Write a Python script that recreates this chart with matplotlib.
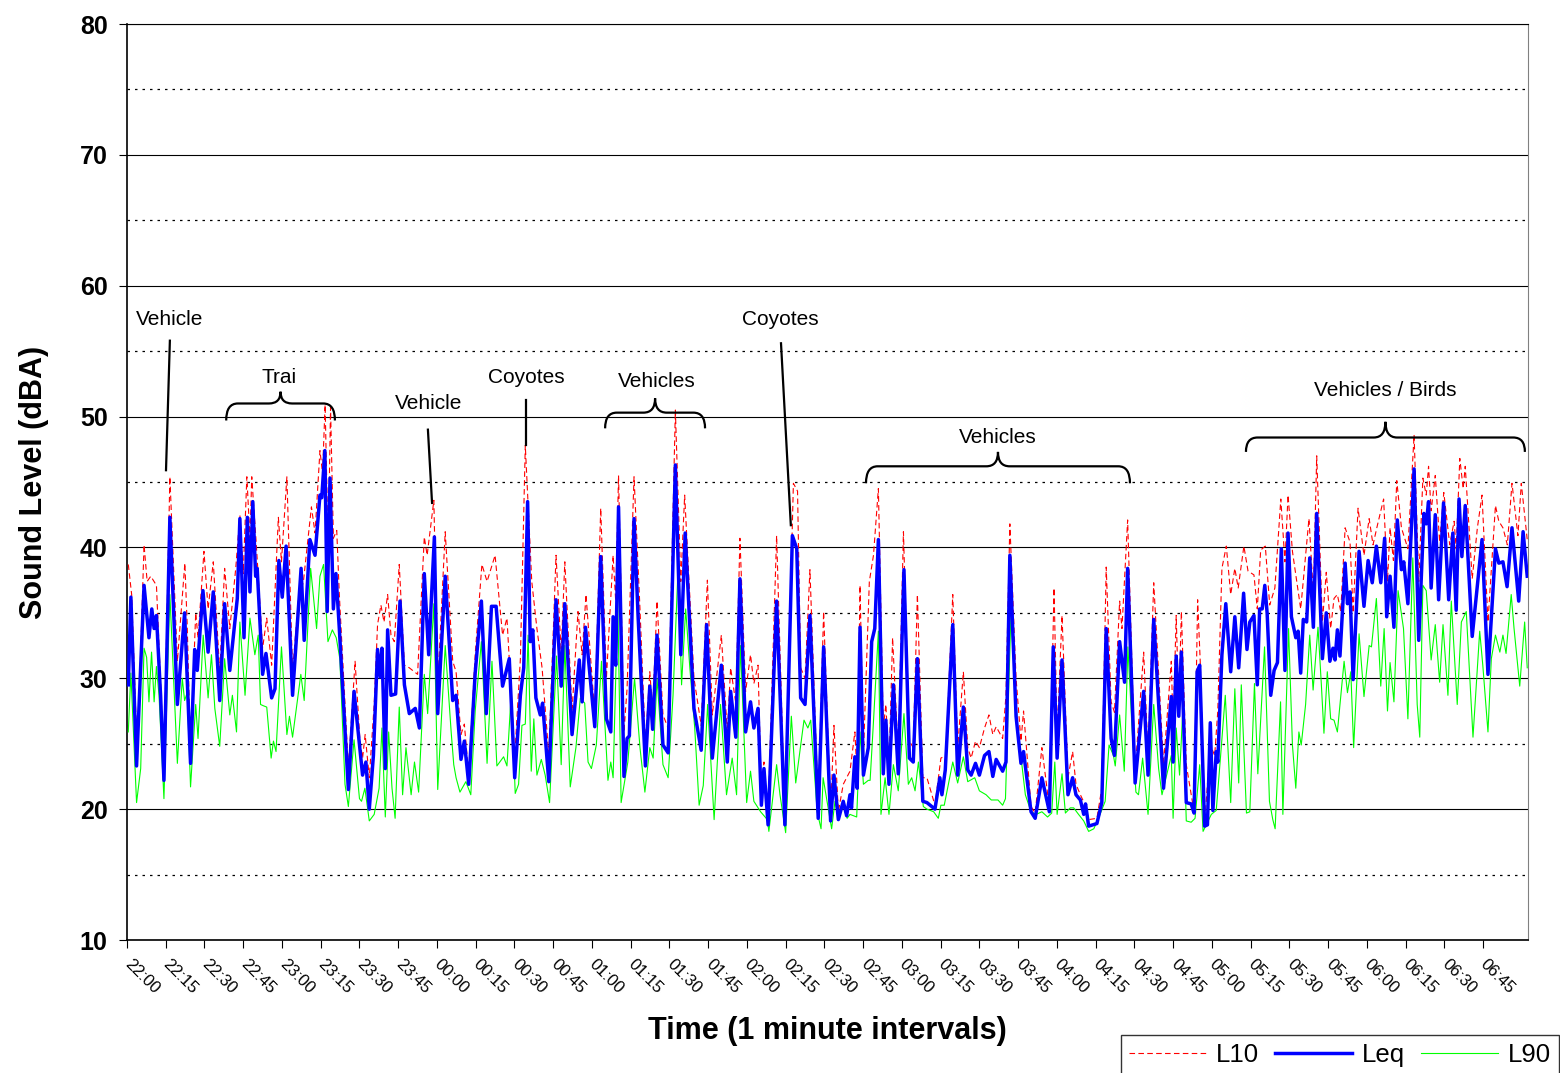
import numpy as np
import matplotlib
matplotlib.use("Agg")
import matplotlib.pyplot as plt
from matplotlib.path import Path
from matplotlib.patches import PathPatch
from matplotlib.lines import Line2D

plt.rcParams['font.family'] = ['Liberation Sans', 'DejaVu Sans']

# minutes after 22:00, level in dBA (turning points)
leq = [
    (0, 29.5), (1, 36.2), (3.2, 23.3), (6.1, 37.1), (8.0, 33.1), (9.1, 35.3), (10.0, 33.8), (10.9, 34.8),
    (12.5, 28.7), (13.8, 22.2), (16.1, 42.3), (19.0, 28.0), (21.8, 35.0), (24.1, 23.5), (25.7, 32.2),
    (26.7, 30.6), (28.9, 36.7), (30.9, 32.0), (32.9, 36.6), (35.4, 28.3), (37.3, 35.7), (39.3, 30.6),
    (42.2, 36.1), (43.2, 42.2), (44.8, 33.1), (46.1, 42.3), (47.1, 36.6), (48.2, 43.5), (49.3, 37.8),
    (49.9, 38.4), (52.0, 30.3), (53.3, 31.9), (55.5, 28.5), (56.8, 29.2), (58.3, 39.0), (59.6, 36.2),
    (61.1, 40.1), (63.6, 28.7), (66.9, 38.4), (68.1, 32.9), (70.3, 40.6), (72.3, 39.4), (74.2, 44.0),
    (74.9, 43.8), (76.1, 47.4), (77.0, 35.1), (78.1, 45.3), (79.4, 35.3), (80.4, 38.0), (81.7, 33.8),
    (85.2, 21.5), (87.4, 29.0), (90.7, 22.6), (92.0, 23.6), (93.3, 20.0), (94.9, 24.1), (96.5, 32.2),
    (97.5, 30.1), (98.2, 32.3), (99.5, 23.1), (100.4, 33.7), (101.7, 28.7), (103.5, 28.8), (105.2, 35.9),
    (106.9, 29.5), (108.8, 27.3), (111.1, 27.7), (112.7, 26.2), (114.6, 38.0), (116.3, 31.8),
    (118.5, 40.8), (119.8, 27.3), (122.7, 37.8), (125.6, 28.3), (126.9, 28.7), (128.8, 23.8),
    (130.1, 25.2), (131.8, 21.9), (134.3, 30.4), (136.7, 35.9), (138.6, 27.3), (140.6, 35.5),
    (142.4, 35.5), (144.9, 29.4), (147.5, 31.5), (149.6, 22.4), (151.8, 28.7), (153.1, 30.8),
    (154.6, 43.5), (155.6, 32.8), (156.6, 33.7), (157.8, 28.5), (159.5, 27.2), (160.4, 28.1),
    (162.8, 22.1), (165.6, 36.0), (167.6, 29.4), (169.0, 35.7), (171.8, 25.7), (174.6, 31.4),
    (175.7, 28.2), (177.0, 33.9), (180.6, 26.3), (182.9, 39.3), (185.1, 26.9), (186.8, 25.9),
    (187.7, 34.7), (188.7, 31.0), (189.8, 43.1), (191.9, 22.5), (193.1, 25.4), (194.0, 25.6),
    (195.8, 42.2), (197.4, 34.6), (200.2, 23.3), (201.9, 29.4), (203.0, 26.1), (204.7, 33.3),
    (207.0, 24.9), (209.0, 24.3), (211.8, 46.3), (213.9, 31.8), (215.6, 41.1), (219.0, 27.7),
    (221.8, 24.5), (223.9, 34.1), (226.1, 23.9), (229.6, 31.0), (231.9, 23.6), (233.2, 29.0),
    (235.2, 25.5), (236.8, 37.6), (239.0, 25.9), (240.9, 28.2), (242.2, 26.2), (243.8, 27.7),
    (245.1, 20.3), (246.1, 23.1), (247.7, 18.8), (251.0, 35.9), (254.2, 18.8), (257.1, 40.9),
    (258.8, 39.9), (260.3, 28.5), (262.0, 28.0), (263.9, 34.8), (267.1, 19.3), (269.2, 32.4),
    (271.9, 19.1), (273.2, 22.6), (274.9, 19.2), (276.8, 20.6), (278.1, 19.5), (279.4, 21.1),
    (280.0, 20.1), (281.3, 24.0), (282.2, 21.6), (283.3, 33.9), (284.6, 22.6), (286.5, 24.7),
    (287.8, 32.8), (289.0, 33.8), (290.4, 40.6), (292.3, 22.7), (293.3, 26.8), (294.5, 21.9),
    (296.2, 29.5), (298.1, 22.7), (300.3, 38.3), (302.4, 23.9), (303.9, 23.6), (305.5, 31.5),
    (307.6, 20.6), (309.2, 20.5), (312.3, 20.0), (314.2, 22.4), (315.0, 21.1), (316.3, 23.0),
    (319.2, 34.1), (321.1, 22.6), (323.3, 27.8), (325.0, 23.0), (326.3, 22.6), (328.0, 23.5),
    (329.5, 22.6), (331.5, 24.1), (333.2, 24.4), (334.7, 22.5), (336.0, 23.8), (338.5, 22.9),
    (339.8, 23.6), (341.3, 39.4), (343.7, 27.1), (345.6, 23.5), (346.6, 24.4), (349.5, 19.8),
    (351.1, 19.3), (353.7, 22.4), (356.6, 19.8), (358.1, 32.4), (359.6, 23.9), (361.5, 31.4),
    (363.8, 21.1), (365.6, 22.4), (366.9, 21.1), (368.6, 20.7), (369.9, 19.6), (370.6, 20.4),
    (371.8, 18.7), (375.0, 18.9), (376.9, 20.5), (378.6, 33.8), (380.5, 25.4), (381.8, 24.1),
    (383.8, 32.8), (385.7, 29.7), (386.9, 38.4), (389.8, 22.0), (393.1, 29.0), (394.8, 22.6),
    (397.0, 34.5), (400.8, 21.6), (403.8, 28.6), (404.5, 23.6), (405.7, 31.7), (406.7, 27.1),
    (407.7, 32.0), (409.6, 20.5), (411.5, 20.4), (412.6, 19.7), (413.8, 30.5), (414.8, 31.0),
    (416.7, 18.7), (417.8, 18.8), (418.9, 26.6), (419.9, 19.9), (421.2, 24.4), (421.8, 23.6),
    (423.4, 31.8), (424.9, 35.7), (426.8, 30.5), (428.4, 34.7), (429.9, 30.8), (431.8, 36.5),
    (433.1, 32.2), (434.2, 34.3), (435.8, 34.8), (437.1, 29.5), (438.0, 35.3), (439.0, 35.3),
    (440.0, 37.1), (440.9, 35.0), (442.3, 28.7), (443.6, 30.6), (444.9, 31.2), (446.4, 39.9),
    (447.8, 30.6), (449.0, 41.1), (450.3, 34.7), (452.0, 33.1), (452.9, 33.6), (453.9, 30.4),
    (454.9, 34.5), (456.2, 34.3), (457.4, 39.2), (458.8, 33.9), (460.1, 42.6), (462.3, 31.5),
    (463.8, 35.0), (465.2, 31.3), (466.4, 32.3), (467.2, 31.4), (468.1, 33.7), (469.1, 31.7),
    (471.1, 38.8), (472.0, 35.7), (473.0, 36.6), (474.2, 29.9), (476.5, 39.7), (478.4, 35.5),
    (480.0, 39.0), (481.6, 37.3), (483.2, 40.1), (484.9, 37.3), (486.4, 40.7), (487.2, 34.7),
    (488.5, 37.8), (490.0, 33.9), (491.3, 42.1), (492.9, 38.3), (493.8, 38.9), (495.4, 35.7),
    (497.8, 46.0), (499.6, 32.9), (501.6, 42.6), (502.5, 41.8), (503.4, 43.5), (504.4, 36.9),
    (506.0, 42.5), (507.3, 36.0), (509.2, 43.4), (511.2, 36.0), (512.8, 41.1), (514.1, 35.2),
    (515.2, 43.7), (516.3, 39.3), (517.6, 43.2), (520.3, 33.2), (524.1, 40.6), (526.4, 30.3),
    (529.3, 39.9), (530.6, 38.8), (532.2, 38.9), (533.8, 37.0), (535.7, 41.5), (538.3, 35.9),
    (540.0, 41.2), (541.6, 37.8),
]

l10 = [
    (0, 38.7), (1.3, 36.4), (3.5, 23.9), (6.1, 40.2), (7.3, 37.4), (8.7, 37.8), (10.9, 37.1),
    (13.8, 23.6), (16.1, 45.4), (19.0, 31.3), (21.9, 38.8), (22.8, 34.1), (24.1, 24.3), (26.1, 35.0),
    (27.0, 33.1), (29.3, 39.7), (30.9, 35.3), (32.9, 38.9), (35.4, 30.5), (37.3, 38.4), (39.3, 33.8),
    (41.6, 38.4), (43.2, 42.5), (44.5, 38.0), (45.9, 45.4), (47.1, 40.7), (47.8, 45.4), (49.5, 40.4),
    (52.0, 32.3), (53.6, 34.6), (55.5, 31.0), (58.1, 42.3), (59.3, 38.9), (61.4, 45.4), (63.6, 30.5),
    (65.8, 35.9), (67.8, 37.4), (70.9, 43.1), (72.3, 41.1), (74.2, 47.4), (75.2, 45.7), (76.2, 50.9),
    (77.4, 39.7), (78.3, 50.7), (79.4, 40.7), (80.7, 41.3), (81.7, 36.4), (85.2, 23.1), (87.8, 31.3),
    (89.7, 25.2), (90.7, 23.9), (91.7, 25.7), (93.3, 22.4), (95.2, 28.0), (96.5, 34.1), (97.8, 35.6),
    (99.0, 34.3), (100.4, 36.4), (101.7, 33.3), (103.0, 32.8), (104.9, 38.7), (106.9, 31.0),
    (108.8, 30.8), (112.0, 30.3), (114.6, 40.8), (115.7, 39.4), (118.3, 43.6), (119.8, 29.5),
    (122.7, 41.2), (125.6, 31.3), (126.9, 30.5), (128.8, 25.7), (130.1, 26.5), (131.8, 22.6),
    (134.3, 31.8), (136.9, 38.7), (138.9, 37.4), (142.0, 39.4), (144.9, 33.3), (146.6, 34.6),
    (149.6, 24.0), (151.8, 31.5), (153.7, 47.8), (156.2, 37.4), (158.2, 33.8), (160.2, 30.8),
    (162.8, 24.1), (165.6, 39.4), (167.6, 32.0), (169.0, 38.9), (171.8, 27.5), (174.1, 35.1),
    (175.7, 31.8), (177.2, 36.4), (180.6, 27.2), (182.9, 43.0), (185.1, 30.0), (187.7, 39.4),
    (188.7, 35.9), (189.8, 45.5), (191.9, 25.9), (193.1, 29.2), (195.8, 45.4), (198.1, 35.3),
    (200.2, 24.9), (201.9, 30.5), (203.0, 27.5), (204.7, 35.9), (207.0, 27.2), (209.0, 26.2),
    (211.8, 50.5), (213.9, 37.4), (215.4, 44.0), (219.0, 30.0), (221.8, 26.4), (224.2, 37.5),
    (226.1, 27.2), (229.6, 33.3), (231.9, 25.9), (233.2, 30.8), (235.2, 28.1), (236.8, 40.7),
    (239.0, 29.0), (240.9, 31.8), (242.2, 29.6), (243.8, 31.0), (245.1, 21.1), (246.1, 23.6),
    (247.7, 19.6), (251.0, 40.9), (254.2, 19.3), (257.5, 44.9), (259.1, 44.3), (260.3, 30.8),
    (262.0, 30.0), (263.9, 38.3), (267.1, 20.3), (269.2, 35.1), (271.9, 19.8), (273.2, 26.4),
    (274.9, 19.8), (276.8, 21.9), (279.4, 22.9), (281.3, 25.9), (282.2, 22.4), (283.3, 37.1),
    (284.6, 24.1), (286.9, 37.4), (288.5, 39.4), (290.4, 44.5), (292.3, 26.2), (293.3, 28.0),
    (294.5, 23.1), (295.9, 33.1), (298.1, 24.1), (300.1, 41.2), (302.4, 25.2), (303.9, 24.7),
    (305.5, 36.4), (307.6, 22.4), (309.2, 22.4), (312.3, 20.3), (314.6, 23.9), (316.5, 24.1),
    (319.2, 36.4), (321.1, 24.7), (323.3, 30.5), (325.0, 24.7), (326.3, 23.9), (328.0, 25.2),
    (329.5, 24.7), (331.5, 26.2), (333.2, 27.2), (334.7, 25.7), (336.0, 26.3), (338.5, 25.4),
    (339.8, 28.7), (341.3, 41.8), (343.7, 30.0), (345.6, 25.2), (346.6, 27.5), (349.5, 20.2),
    (351.1, 19.7), (353.7, 24.7), (356.6, 20.1), (358.4, 36.9), (359.6, 25.7), (361.5, 34.8),
    (363.8, 22.4), (365.6, 24.4), (366.9, 21.9), (368.6, 21.1), (370.5, 20.3), (371.8, 19.2),
    (375.0, 19.3), (376.9, 21.6), (378.6, 38.5), (380.5, 28.2), (381.8, 27.4), (383.8, 35.9),
    (384.7, 33.8), (386.9, 42.1), (389.8, 22.9), (393.1, 32.0), (394.8, 24.1), (397.0, 37.3),
    (400.8, 23.4), (403.8, 31.3), (404.5, 26.2), (405.7, 34.8), (406.7, 27.7), (407.7, 35.1),
    (409.6, 23.4), (411.5, 21.1), (412.6, 19.8), (414.0, 36.0), (415.0, 31.3), (416.7, 18.9),
    (418.9, 24.9), (420.6, 24.1), (421.8, 27.5), (423.4, 38.4), (425.1, 40.1), (426.8, 36.4),
    (428.4, 38.4), (429.7, 36.9), (431.9, 40.1), (433.5, 38.2), (435.8, 37.9), (437.1, 35.3),
    (438.4, 39.8), (440.2, 40.1), (441.9, 35.6), (443.9, 36.9), (446.2, 43.7), (447.8, 38.9),
    (449.0, 44.0), (450.7, 39.7), (452.6, 37.1), (453.9, 35.3), (455.2, 38.1), (457.1, 42.2),
    (458.8, 36.4), (460.1, 47.0), (462.3, 34.3), (463.8, 38.1), (465.5, 33.8), (466.8, 36.1),
    (468.1, 36.4), (469.4, 35.1), (471.1, 41.5), (473.0, 40.4), (474.2, 35.0), (476.1, 43.0),
    (478.4, 39.4), (480.4, 42.2), (481.9, 40.2), (483.6, 41.7), (486.0, 43.7), (487.5, 37.4),
    (488.5, 41.5), (489.8, 39.0), (491.1, 45.1), (492.9, 41.5), (495.4, 39.9), (497.8, 48.6),
    (499.6, 37.4), (501.2, 45.3), (502.5, 44.0), (503.4, 46.2), (504.4, 42.8), (506.0, 45.5),
    (507.7, 40.4), (509.3, 44.2), (511.6, 40.2), (513.3, 42.0), (514.1, 39.9), (515.5, 46.8),
    (516.8, 44.5), (517.6, 46.2), (520.3, 37.6), (522.3, 41.5), (524.1, 44.0), (526.4, 34.3),
    (529.3, 43.2), (530.6, 42.0), (532.2, 41.5), (533.9, 40.2), (535.7, 44.9), (538.0, 40.9),
    (539.3, 44.9), (541.6, 40.6),
]

l90 = [
    (0, 25.9), (1, 30.4), (3.2, 20.5), (4.8, 23.1), (6.1, 32.3), (7.1, 31.6), (8.0, 28.2), (9.0, 32.0),
    (10.0, 28.2), (10.9, 30.9), (11.9, 28.7), (13.8, 20.8), (16.1, 36.4), (19.0, 23.5), (20.9, 30.0),
    (21.8, 28.3), (22.8, 28.9), (24.1, 21.7), (26.1, 28.0), (27.0, 25.4), (29.0, 33.3), (30.9, 28.5),
    (32.2, 31.8), (33.5, 27.7), (35.4, 24.8), (37.3, 31.5), (39.3, 27.2), (40.3, 28.7), (41.9, 25.9),
    (43.2, 34.3), (45.2, 28.7), (47.1, 34.6), (49.0, 31.8), (50.3, 33.3), (51.2, 28.0), (52.3, 27.9),
    (53.6, 27.8), (55.3, 23.9), (56.2, 25.2), (57.2, 24.4), (59.3, 32.4), (61.4, 25.7), (62.4, 27.1),
    (63.6, 25.5), (66.8, 30.3), (68.1, 28.3), (70.6, 38.4), (72.9, 33.8), (74.2, 37.8), (75.6, 38.7),
    (77.3, 32.8), (79.0, 33.7), (80.5, 33.1), (81.9, 31.5), (83.9, 21.9), (85.2, 20.2), (87.4, 25.3),
    (89.5, 20.8), (90.3, 20.6), (91.6, 21.6), (93.3, 19.1), (95.2, 19.6), (97.1, 21.6), (98.2, 26.2),
    (99.5, 19.4), (100.8, 25.9), (102.1, 21.6), (103.3, 19.3), (104.9, 27.8), (106.2, 21.1),
    (107.5, 24.7), (109.5, 21.1), (110.8, 23.6), (112.4, 21.3), (114.6, 30.3), (115.9, 27.3),
    (118.3, 35.7), (119.8, 21.5), (122.7, 32.5), (125.0, 25.9), (126.0, 23.4), (126.9, 22.4),
    (128.4, 21.3), (130.7, 22.1), (132.6, 21.1), (134.3, 27.5), (136.7, 32.8), (138.9, 23.5),
    (140.8, 31.3), (142.7, 23.3), (145.3, 24.0), (146.6, 23.3), (148.3, 29.0), (149.8, 21.2),
    (151.1, 21.9), (152.4, 26.4), (153.7, 26.5), (154.8, 33.3), (156.0, 22.9), (157.0, 26.9),
    (158.2, 22.6), (159.9, 23.8), (161.4, 22.6), (163.1, 20.5), (165.8, 31.7), (167.6, 23.4),
    (169.0, 32.5), (171.1, 21.7), (173.3, 24.7), (175.0, 28.5), (176.7, 28.1), (178.0, 23.6),
    (179.3, 23.1), (181.2, 24.9), (183.2, 31.3), (185.7, 22.2), (186.8, 23.6), (187.7, 22.4),
    (189.5, 36.0), (190.8, 20.5), (193.4, 23.6), (196.0, 30.0), (198.1, 24.7), (200.0, 21.3),
    (201.9, 24.7), (203.2, 23.9), (204.7, 30.0), (207.0, 23.4), (209.0, 22.4), (210.9, 28.7),
    (212.9, 38.7), (214.2, 29.5), (215.8, 35.3), (217.4, 30.8), (219.3, 26.2), (221.0, 20.3),
    (222.6, 21.8), (224.3, 28.0), (226.8, 19.2), (229.3, 28.0), (231.6, 21.1), (233.8, 23.9),
    (235.5, 21.1), (237.0, 32.5), (239.4, 20.5), (240.9, 22.9), (242.2, 20.6), (244.8, 19.8),
    (247.4, 19.2), (248.0, 18.3), (251.0, 23.4), (252.3, 21.1), (254.5, 18.2), (256.7, 27.1),
    (258.4, 22.0), (261.6, 26.8), (263.1, 26.2), (264.2, 26.8), (266.7, 19.8), (268.2, 18.5),
    (269.0, 22.4), (272.3, 18.5), (273.6, 20.6), (274.9, 19.4), (276.8, 20.3), (278.3, 19.3),
    (279.4, 19.6), (282.0, 19.4), (283.3, 25.9), (284.6, 21.9), (286.5, 22.2), (287.2, 22.2),
    (288.5, 26.7), (290.4, 33.6), (291.4, 19.6), (293.0, 22.4), (294.5, 19.6), (296.2, 23.4),
    (298.1, 21.4), (300.3, 27.3), (302.0, 21.9), (303.3, 22.4), (304.6, 21.4), (305.9, 23.6),
    (307.8, 20.2), (309.2, 20.0), (311.8, 19.8), (313.6, 19.3), (314.6, 20.3), (315.9, 20.3),
    (319.2, 23.6), (321.1, 22.0), (323.3, 24.0), (325.0, 22.1), (327.7, 22.4), (329.5, 21.4),
    (332.1, 21.1), (334.1, 20.7), (336.7, 20.7), (338.5, 20.3), (339.6, 20.8), (341.7, 34.8),
    (344.3, 26.2), (347.3, 21.1), (349.5, 19.8), (351.5, 19.6), (353.7, 19.8), (355.9, 19.4),
    (357.5, 19.7), (358.7, 23.6), (359.6, 19.6), (361.5, 22.7), (362.8, 19.7), (364.7, 20.1),
    (366.0, 20.1), (367.9, 19.6), (369.9, 19.1), (371.8, 18.3), (373.8, 18.5), (375.6, 19.3),
    (378.2, 20.6), (379.7, 24.9), (381.4, 24.1), (382.1, 23.3), (383.8, 27.2), (385.6, 22.9),
    (387.0, 32.4), (388.6, 26.2), (390.1, 21.3), (391.1, 21.1), (392.7, 23.9), (394.8, 19.6),
    (397.0, 28.0), (398.9, 23.1), (400.2, 21.1), (403.8, 24.1), (404.5, 19.3), (405.7, 26.2),
    (407.0, 22.6), (408.3, 27.7), (409.6, 19.1), (411.5, 19.0), (413.0, 19.3), (414.8, 23.4),
    (416.1, 18.3), (419.3, 19.6), (421.2, 19.9), (422.9, 24.1), (424.7, 28.7), (426.8, 20.5),
    (428.4, 29.2), (429.9, 22.0), (430.9, 29.5), (432.9, 19.7), (434.2, 19.8), (436.0, 29.6),
    (437.3, 22.7), (439.9, 32.4), (441.8, 20.6), (443.1, 19.2), (444.0, 18.5), (446.1, 28.2),
    (447.0, 19.6), (449.2, 33.8), (450.7, 24.9), (452.0, 21.6), (453.2, 25.9), (454.1, 24.9),
    (455.8, 28.0), (457.4, 33.3), (458.7, 29.1), (460.6, 33.9), (461.9, 29.5), (462.9, 25.8),
    (464.2, 30.5), (465.5, 26.9), (466.8, 26.8), (468.1, 25.9), (470.7, 31.3), (472.0, 28.9),
    (473.3, 30.5), (474.4, 24.7), (476.5, 33.4), (478.4, 28.6), (480.4, 32.5), (481.3, 32.4),
    (483.2, 36.1), (484.9, 29.4), (486.2, 33.8), (487.5, 27.5), (488.5, 31.2), (490.0, 28.2),
    (491.6, 36.7), (493.7, 33.8), (495.4, 26.9), (497.3, 39.2), (499.0, 28.0), (500.0, 25.5),
    (501.2, 37.1), (502.5, 36.7), (504.4, 31.4), (506.0, 34.1), (507.7, 29.7), (509.0, 34.1),
    (510.9, 28.7), (512.2, 35.9), (514.5, 28.0), (516.1, 34.3), (518.0, 35.1), (520.6, 25.5),
    (523.2, 33.6), (524.4, 31.0), (526.4, 25.9), (527.7, 31.5), (529.3, 33.3), (531.0, 32.0),
    (532.2, 33.3), (533.4, 31.9), (535.4, 36.4), (536.5, 33.8), (538.7, 29.4), (540.6, 34.3),
    (541.6, 30.8),
]

time_labels = ["22:00", "22:15", "22:30", "22:45", "23:00", "23:15", "23:30", "23:45",
               "00:00", "00:15", "00:30", "00:45", "01:00", "01:15", "01:30", "01:45",
               "02:00", "02:15", "02:30", "02:45", "03:00", "03:15", "03:30", "03:45",
               "04:00", "04:15", "04:30", "04:45", "05:00", "05:15", "05:30", "05:45",
               "06:00", "06:15", "06:30", "06:45"]

# label, text (x, y), pointer line ((x0, y0), (x1, y1))
pointer_notes = [
    ("Vehicle", (15.8, 57.4), ((16.1, 55.8), (14.6, 45.9))),
    ("Vehicle", (116.4, 51.0), ((116.0, 49.0), (117.6, 43.4))),
    ("Coyotes", (154.0, 53.0), ((154.0, 51.3), (154.0, 47.8))),
    ("Coyotes", (252.3, 57.4), ((252.7, 55.6), (256.5, 41.7))),
]
# label, text (x, y), brace x0, x1, y_end, y_line, y_tip
brace_notes = [
    ("Trai", (58.3, 53.0), 37.9, 80.0, 49.7, 51.0, 51.9),
    ("Vehicles", (204.7, 52.7), 184.6, 223.3, 49.1, 50.3, 51.4),
    ("Vehicles", (336.7, 48.4), 285.6, 387.8, 44.9, 46.2, 47.3),
    ("Vehicles / Birds", (486.5, 52.0), 432.7, 540.7, 47.3, 48.4, 49.6),
]


def brace_path(x0, x1, y_end, y_line, y_tip, r=4.5):
    xm = (x0 + x1) / 2
    verts = [(x0, y_end), (x0, y_line), (x0 + r, y_line),
             (xm - r, y_line), (xm, y_line), (xm, y_tip),
             (xm, y_line), (xm + r, y_line),
             (x1 - r, y_line), (x1, y_line), (x1, y_end)]
    codes = [Path.MOVETO, Path.CURVE3, Path.CURVE3,
             Path.LINETO, Path.CURVE3, Path.CURVE3,
             Path.CURVE3, Path.CURVE3,
             Path.LINETO, Path.CURVE3, Path.CURVE3]
    return Path(verts, codes)


fig = plt.figure(figsize=(15.6, 10.73), dpi=100)
ax = fig.add_axes([127 / 1560, 1 - 940 / 1073, 1401 / 1560, 916 / 1073])

lt, lv = zip(*l90)
ax.plot(lt, lv, color="#00ff00", lw=0.8, zorder=3)
lt, lv = zip(*l10)
ax.plot(lt, lv, color="#ff0000", lw=0.8, dashes=(5, 3), zorder=4)
lt, lv = zip(*leq)
ax.plot(lt, lv, color="#0000ff", lw=2.5, zorder=5)

ax.set_xlim(-0.5, 541.9)
ax.set_ylim(10, 80)

ax.set_yticks(range(10, 81, 10))
ax.set_yticks(range(15, 80, 10), minor=True)
ax.grid(which="major", axis="y", color="black", lw=0.8)
ax.grid(which="minor", axis="y", color="black", lw=0.9, linestyle=(0, (2, 4)))
ax.tick_params(axis="y", which="minor", length=0)
ax.tick_params(axis="y", which="major", direction="out", length=6, labelsize=18, pad=8)
for lbl in ax.get_yticklabels():
    lbl.set_fontweight("bold")

ax.set_xticks([15 * i - 0.5 for i in range(len(time_labels))])
ax.set_xticklabels(time_labels, rotation=-45, ha="left", va="center", rotation_mode="anchor", fontsize=12)
ax.tick_params(axis="x", direction="out", length=6, pad=10)

ax.set_ylabel("Sound Level (dBA)", fontsize=22, fontweight="bold", labelpad=22)
ax.set_xlabel("Time (1 minute intervals)", fontsize=22, fontweight="bold", labelpad=14)

for side in ["left", "bottom"]:
    ax.spines[side].set_linewidth(1.2)
ax.spines["top"].set_linewidth(0.8)
ax.spines["right"].set_color("#808080")

for text, (tx, ty), (p0, p1) in pointer_notes:
    ax.text(tx, ty, text, ha="center", va="center", fontsize=15, zorder=6)
    ax.plot([p0[0], p1[0]], [p0[1], p1[1]], color="black", lw=1.6, zorder=6)

for text, (tx, ty), x0, x1, y_end, y_line, y_tip in brace_notes:
    ax.text(tx, ty, text, ha="center", va="center", fontsize=15, zorder=6)
    ax.add_patch(PathPatch(brace_path(x0, x1, y_end, y_line, y_tip), fill=False,
                           edgecolor="black", lw=1.6, zorder=6))

handles = [Line2D([], [], color="#ff0000", lw=0.8, dashes=(5, 3)),
           Line2D([], [], color="#0000ff", lw=2.5),
           Line2D([], [], color="#00ff00", lw=0.8)]
leg = fig.legend(handles, ["L10", "Leq", "L90"], loc="upper left",
                 bbox_to_anchor=(1121 / 1560, 1 - 1035 / 1073), ncol=3, fontsize=18.5,
                 frameon=True, fancybox=False, edgecolor="black", borderaxespad=0,
                 handlelength=3.0, handletextpad=0.4, columnspacing=0.6, borderpad=0.3)
leg.get_frame().set_linewidth(1.0)

fig.savefig("out.png", dpi=100)
